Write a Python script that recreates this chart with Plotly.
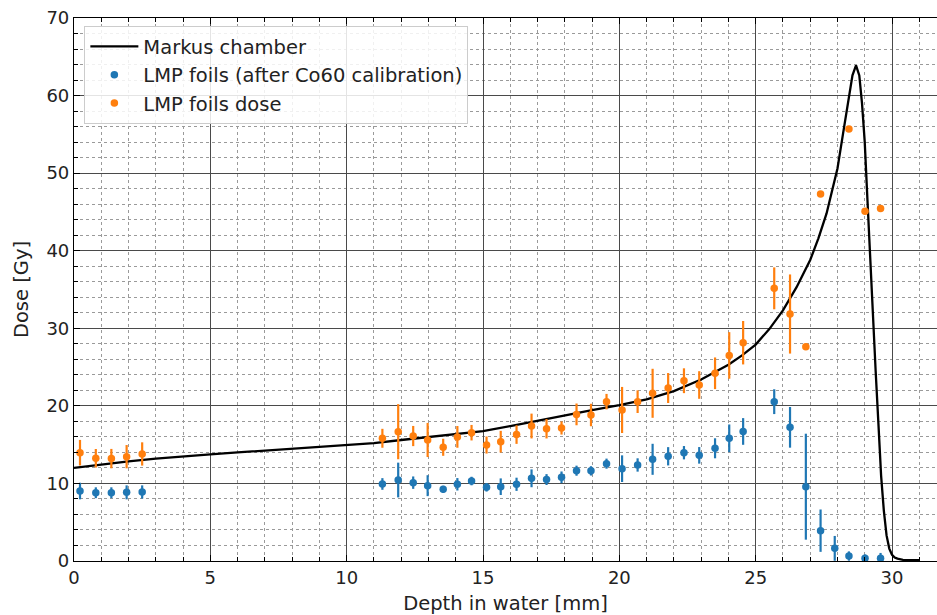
import plotly.graph_objects as go

# Markus chamber depth-dose curve
markus_x = [0, 1, 2, 3, 4, 5, 6, 7, 8, 9, 10, 11, 12, 13, 14, 15, 16, 17, 18, 19, 20,
            21, 22, 23, 24, 24.5, 25, 25.5, 26, 26.5, 27, 27.3, 27.6, 28.0, 28.2, 28.4,
            28.55, 28.68, 28.8, 28.9, 29.0, 29.1, 29.2, 29.3, 29.4, 29.5, 29.6, 29.7,
            29.8, 29.9, 30.0, 30.1, 30.2, 30.4, 30.7, 31.0]
markus_y = [12.0, 12.45, 12.85, 13.2, 13.5, 13.75, 14.0, 14.25, 14.5, 14.7, 14.95,
            15.2, 15.6, 16.0, 16.35, 16.75, 17.4, 18.1, 18.8, 19.45, 20.1,
            20.85, 21.9, 23.4, 25.3, 26.5, 27.9, 29.9, 32.3, 35.3, 38.8, 41.6, 44.8,
            50.6, 55.0, 59.4, 62.6, 63.9, 62.6, 59.0, 54.0, 46.5, 38.5, 31.5, 24.5,
            17.8, 11.0, 6.5, 3.3, 1.6, 0.8, 0.45, 0.3, 0.15, 0.1, 0.1]

# LMP foils (after Co60 calibration)
blue_x = [0.22, 0.80, 1.37, 1.93, 2.50,
          11.31, 11.89, 12.44, 12.97, 13.54, 14.06, 14.58, 15.13, 15.65, 16.23,
          16.78, 17.33, 17.88, 18.43, 18.96, 19.53, 20.10, 20.67, 21.22, 21.79,
          22.37, 22.93, 23.51, 24.03, 24.54, 25.68, 26.26, 26.84, 27.38, 27.90,
          28.42, 29.01, 29.58]
blue_y = [9.02, 8.8, 8.8, 8.85, 8.9,
          9.93, 10.44, 10.1, 9.71, 9.24, 9.89, 10.31, 9.5, 9.58, 9.89,
          10.66, 10.5, 10.79, 11.64, 11.62, 12.55, 11.9, 12.38, 13.11, 13.5,
          13.96, 13.62, 14.53, 15.82, 16.7, 20.54, 17.23, 9.58, 3.91, 1.63,
          0.64, 0.34, 0.34]
blue_err = [1.07, 0.7, 0.7, 0.9, 0.85,
            0.75, 2.24, 0.8, 1.35, 0.45, 0.8, 0.55, 0.55, 1.07, 0.85,
            1.15, 0.7, 0.75, 0.65, 0.6, 0.65, 1.72, 0.86, 2.0, 1.18,
            0.86, 1.07, 1.29, 1.78, 1.72, 1.6, 2.62, 6.83, 2.73, 1.6,
            0.6, 0.5, 0.7]

# LMP foils dose
orange_x = [0.22, 0.80, 1.37, 1.93, 2.50,
            11.31, 11.89, 12.44, 12.97, 13.54, 14.06, 14.58, 15.13, 15.65, 16.23,
            16.78, 17.33, 17.88, 18.43, 18.96, 19.53, 20.10, 20.67, 21.22, 21.79,
            22.37, 22.93, 23.51, 24.03, 24.54, 25.68, 26.26, 26.84, 27.38,
            28.42, 29.01, 29.58]
orange_y = [13.96, 13.24, 13.2, 13.45, 13.8,
            15.82, 16.67, 16.11, 15.6, 14.66, 16.0, 16.54, 14.95, 15.38, 16.3,
            17.4, 17.05, 17.15, 18.9, 18.82, 20.54, 19.47, 20.54, 21.62, 22.3,
            23.24, 22.69, 24.2, 26.5, 28.14, 35.15, 31.84, 27.63, 47.3,
            55.7, 45.1, 45.45]
orange_err = [1.65, 1.2, 1.25, 1.5, 1.5,
              1.22, 3.55, 1.3, 2.2, 1.1, 1.4, 1.0, 1.1, 1.4, 1.2,
              1.6, 1.25, 0.85, 1.4, 1.45, 1.0, 2.97, 1.46, 3.16, 1.93,
              1.6, 1.78, 2.04, 3.0, 2.8, 2.7, 5.1, 0, 0,
              0, 0, 0]

BLUE = "#1f77b4"
ORANGE = "#ff7f0e"
FONT = "DejaVu Sans"
TXT = "#222222"

fig = go.Figure()
fig.add_trace(go.Scatter(x=markus_x, y=markus_y, mode="lines", name="Markus chamber",
                         line=dict(color="black", width=2.3)))
fig.add_trace(go.Scatter(x=blue_x, y=blue_y, mode="markers",
                         name="LMP foils (after Co60 calibration)",
                         marker=dict(color=BLUE, size=7.5),
                         error_y=dict(type="data", array=blue_err, visible=True,
                                      color=BLUE, thickness=2.2, width=0)))
fig.add_trace(go.Scatter(x=orange_x, y=orange_y, mode="markers",
                         name="LMP foils dose",
                         marker=dict(color=ORANGE, size=7.5),
                         error_y=dict(type="data", array=orange_err, visible=True,
                                      color=ORANGE, thickness=2.2, width=0)))

axis_common = dict(
    showline=True, linecolor="black", linewidth=1.2,
    ticks="inside", ticklen=6, tickwidth=1, tickcolor="black",
    showgrid=True, gridcolor="#4a4a4a", gridwidth=1.2,
    zeroline=False,
    tickfont=dict(family=FONT, size=18, color=TXT),
)

fig.update_xaxes(
    range=[0, 31.65], dtick=5, tick0=0, mirror="allticks",
    minor=dict(dtick=1, ticks="inside", ticklen=3.5, tickcolor="black",
               showgrid=True, gridcolor="#9a9a9a", griddash="dot", gridwidth=1),
    title=dict(text="Depth in water [mm]", font=dict(family=FONT, size=19.5, color=TXT),
               standoff=10),
    **axis_common)
fig.update_yaxes(
    range=[0, 70], dtick=10, tick0=0, mirror=False,
    minor=dict(dtick=2, ticks="inside", ticklen=3.5, tickcolor="black",
               showgrid=True, gridcolor="#9a9a9a", griddash="dot", gridwidth=1),
    title=dict(text="Dose [Gy]", font=dict(family=FONT, size=19.5, color=TXT),
               standoff=12),
    **axis_common)

fig.update_layout(
    width=937, height=615,
    margin=dict(l=74, r=0, t=18, b=54, autoexpand=False),
    paper_bgcolor="white", plot_bgcolor="white",
    font=dict(family=FONT, size=18, color=TXT),
    showlegend=True,
    legend=dict(x=0.012, y=0.985, xanchor="left", yanchor="top",
                bgcolor="rgba(255,255,255,0.85)", bordercolor="#cccccc", borderwidth=1,
                font=dict(family=FONT, size=19.5, color=TXT),
                tracegroupgap=0, itemwidth=48),
)

fig.write_html("out.html")
